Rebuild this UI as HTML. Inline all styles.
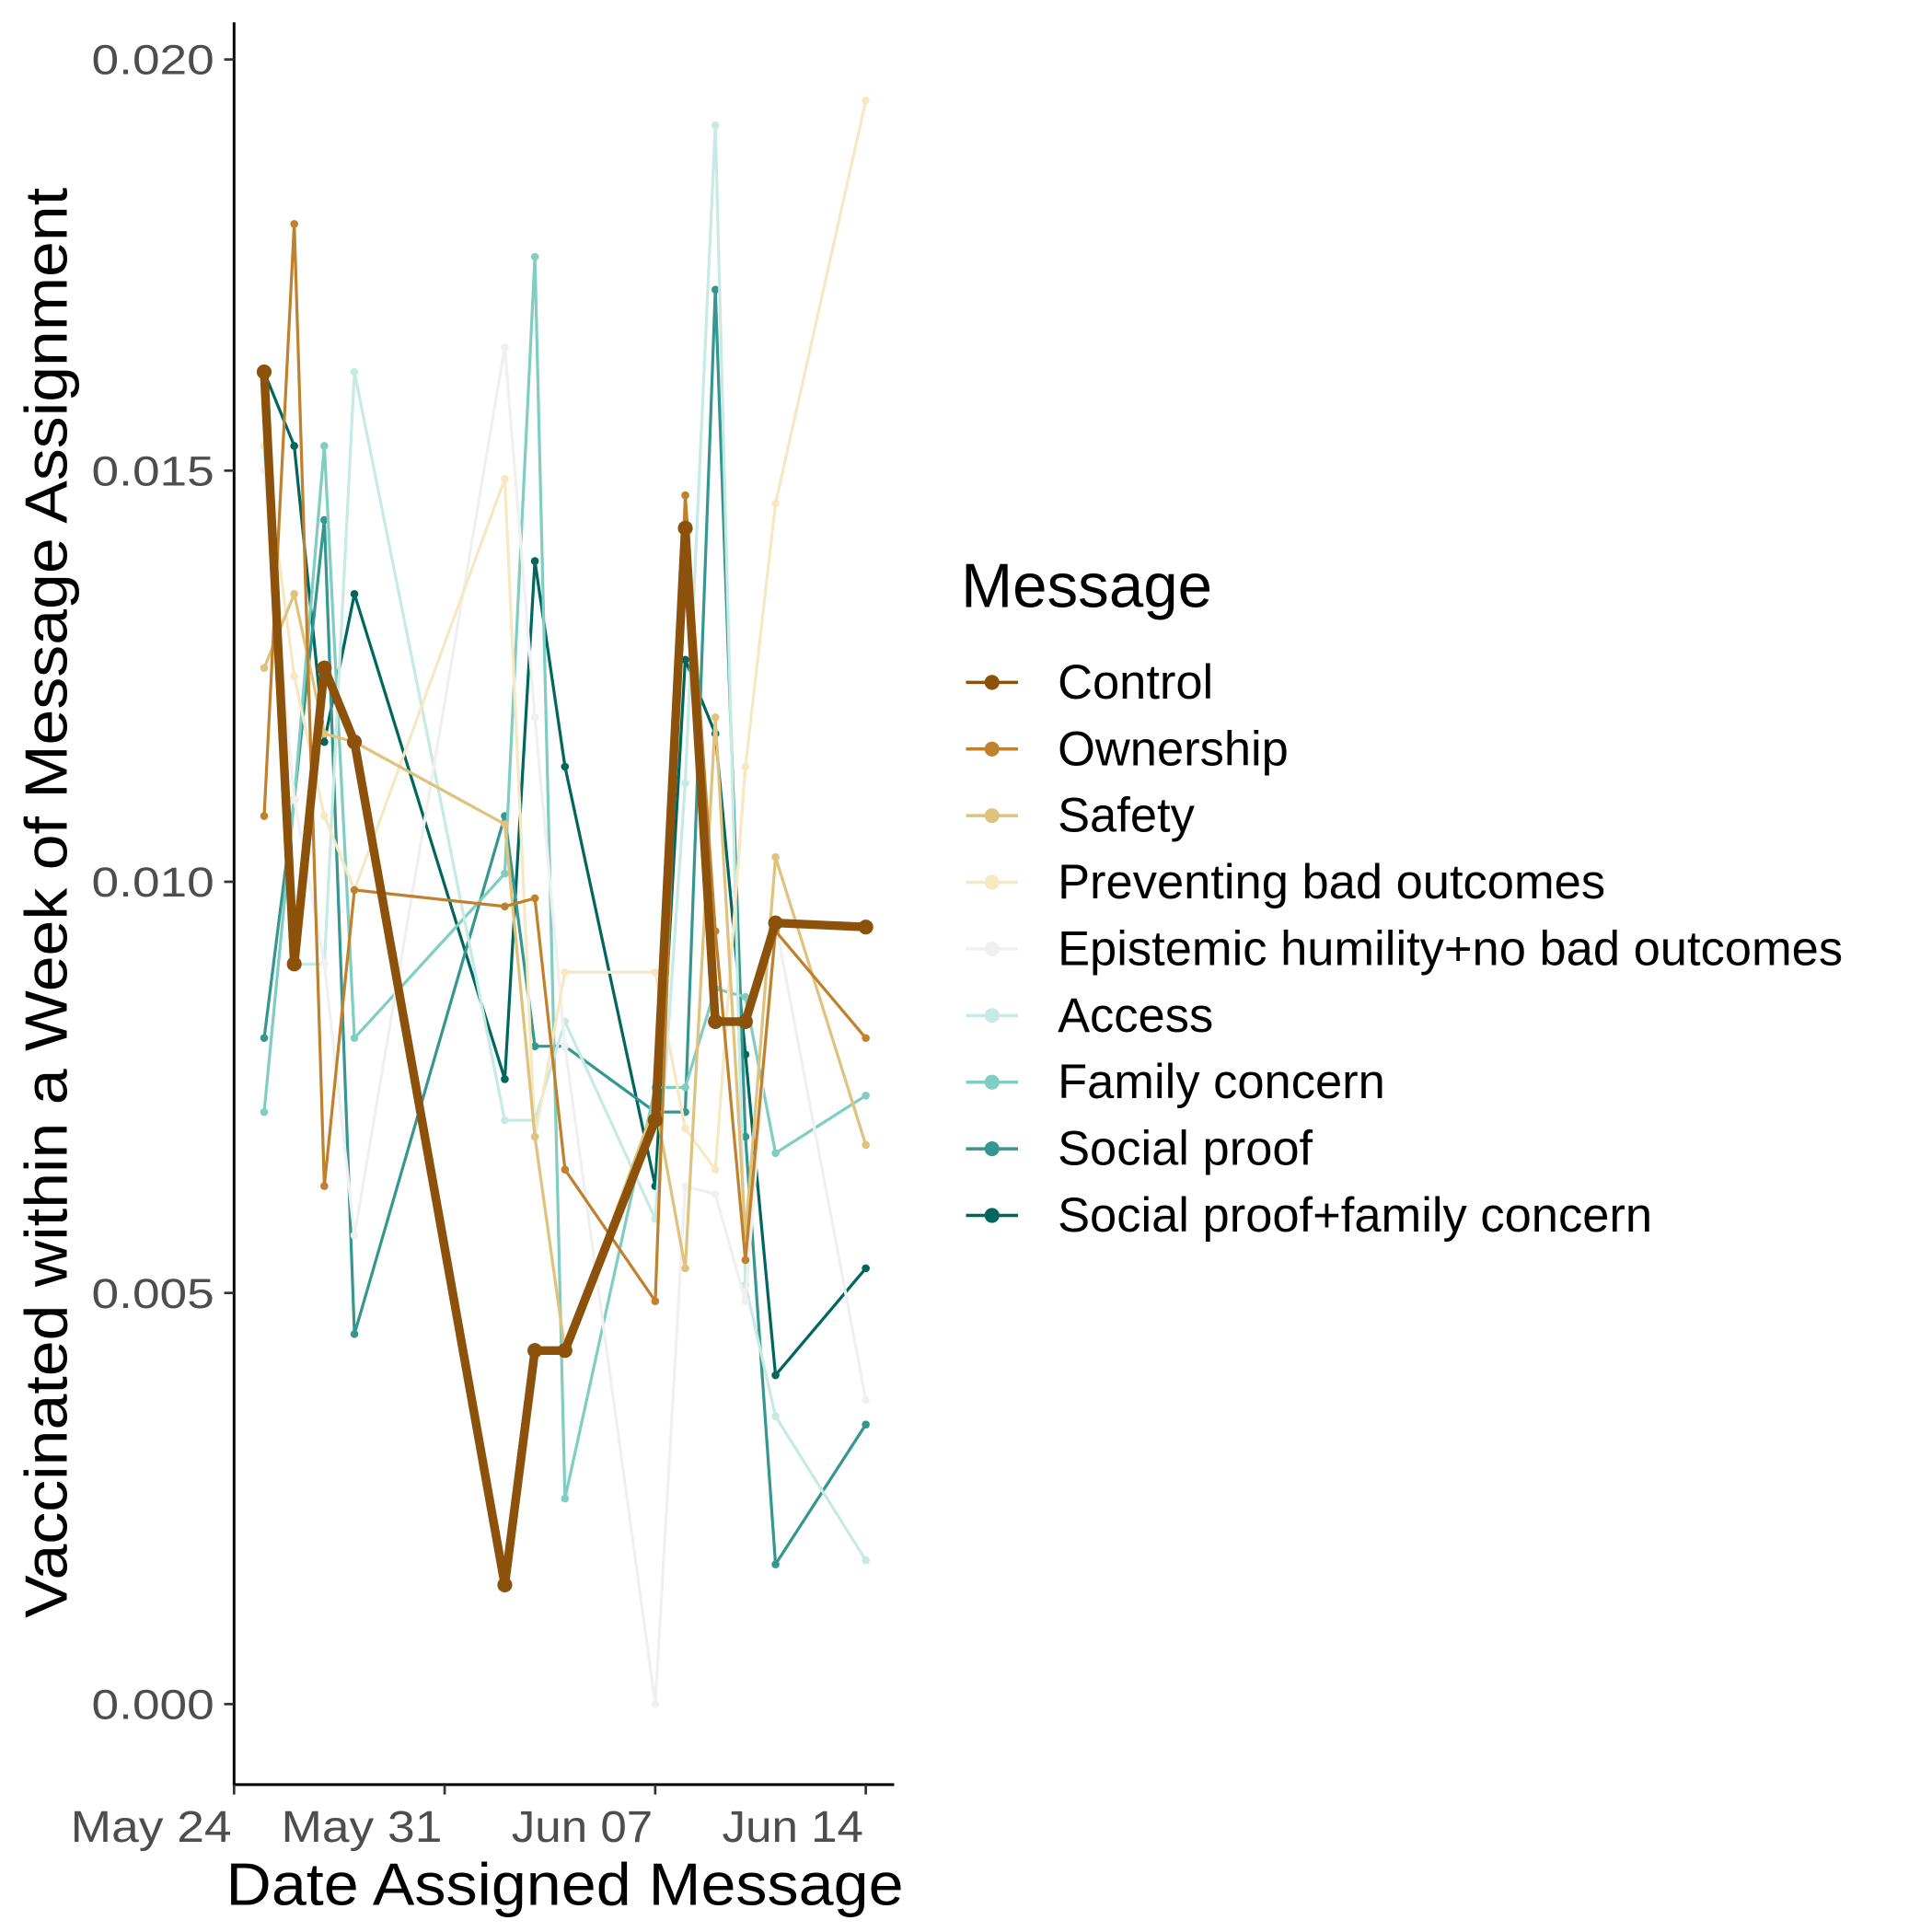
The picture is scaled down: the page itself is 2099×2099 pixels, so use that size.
<!DOCTYPE html>
<html><head><meta charset="utf-8"><style>html,body{margin:0;padding:0;background:#fff}svg{display:block}</style></head>
<body>
<svg id="chart" width="2099" height="2099" viewBox="0 0 1560 1560" xmlns="http://www.w3.org/2000/svg" font-family="Liberation Sans, DejaVu Sans, sans-serif">
<rect width="1560" height="1560" fill="#fff"/>
<g id="plot"></g>
</svg>
<script>
const dates = ["2021-05-25","2021-05-26","2021-05-27","2021-05-28","2021-06-02","2021-06-03","2021-06-04","2021-06-07","2021-06-08","2021-06-09","2021-06-10","2021-06-11","2021-06-14"];
const seriesNames = ["Control","Ownership","Safety","Preventing bad outcomes","Epistemic humility+no bad outcomes","Access","Family concern","Social proof","Social proof+family concern"];
const seriesColors = ["#8c510a","#bf812d","#dfc27d","#f6e8c3","#f0f0f0","#c7eae5","#80cdc1","#35978f","#01665e"];
const controlVals = [0.0162,0.0090,0.0126,0.0117,0.00145,0.0043,0.0043,0.0071,0.0143,0.0083,0.0083,0.0095,0.00945];
const ownershipVals = [0.0108,0.0180,0.0063,0.0099,0.0097,0.0098,0.0065,0.0049,0.0147,0.0094,0.0054,0.0094,0.0081];
const safetyVals = [0.0126,0.0135,0.0118,0.0117,0.0107,0.0069,0.0043,0.0073,0.0053,0.0120,0.0057,0.0103,0.0068];
const preventingVals = [0.0153,0.0125,0.0108,0.0099,0.0149,0.0069,0.0089,0.0089,0.0070,0.0065,0.0114,0.0146,0.0195];
const epistemicVals = [0.0150,0.0110,0.0090,0.0057,0.0165,0.0120,0.0080,0.0,0.0063,0.0062,0.0049,0.0095,0.0037];
const accessVals = [0.0153,0.0090,0.0090,0.0162,0.0071,0.0071,0.0083,0.0059,0.0112,0.0192,0.0051,0.0035,0.00175];
const familyVals = [0.0072,0.0110,0.0153,0.0081,0.0101,0.0176,0.0025,0.0075,0.0075,0.0087,0.0086,0.0067,0.0074];
const socialVals = [0.0081,0.0110,0.0144,0.0045,0.0108,0.0080,0.0080,0.0072,0.0072,0.0172,0.0069,0.0017,0.0034];
const socialFamVals = [0.0162,0.0153,0.0117,0.0135,0.0076,0.0139,0.0114,0.0063,0.0127,0.0118,0.0079,0.0040,0.0053];
const yTicks = [0,0.005,0.010,0.015,0.020];
const yTickLabels = ["0.000","0.005","0.010","0.015","0.020"];
const xTicks = ["2021-05-24","2021-05-31","2021-06-07","2021-06-14"];
const xTickLabels = ["May 24","May 31","Jun 07","Jun 14"];

const allVals=[controlVals,ownershipVals,safetyVals,preventingVals,epistemicVals,accessVals,familyVals,socialVals,socialFamVals];
const NS="http://www.w3.org/2000/svg";
const g=document.getElementById('plot');
const day0=Date.parse("2021-05-24");
function xs(d){return 189+(Date.parse(d)-day0)/86400000*24.29;}
function ys(v){return 1376-v/0.020*1328;}
function el(t,a,p){const e=document.createElementNS(NS,t);for(const k in a)e.setAttribute(k,a[k]);(p||g).appendChild(e);return e;}

for(let s=allVals.length-1;s>=0;s--){
  const vals=allVals[s];
  const thick=s===0;
  const pts=vals.map((v,i)=>xs(dates[i]).toFixed(1)+","+ys(v).toFixed(1)).join(" ");
  const pl=el('polyline',{points:pts,fill:'none',stroke:seriesColors[s],'stroke-width':thick?7:2.4,'stroke-linejoin':'round'});
  
  
  vals.forEach((v,i)=>{
    const c=el('circle',{cx:xs(dates[i]),cy:ys(v),r:thick?6:3.2,fill:seriesColors[s]});
    
    
  });
}
const ax=el('path',{d:'M189,18 V1441 H722',fill:'none',stroke:'#000','stroke-width':2.2});


yTicks.forEach((v,i)=>{
  el('line',{x1:181,x2:189,y1:ys(v),y2:ys(v),stroke:'#333','stroke-width':2});
  const t=el('text',{x:173,y:ys(v)+12,'text-anchor':'end','font-size':34,fill:'#4d4d4d',textLength:99,lengthAdjust:'spacingAndGlyphs'});
  t.textContent=yTickLabels[i];
  
  
});
xTicks.forEach((d,i)=>{
  el('line',{x1:xs(d),x2:xs(d),y1:1441,y2:1449,stroke:'#333','stroke-width':2});
  const t=el('text',{x:xs(d)-2,y:1487,'text-anchor':'end','font-size':36,fill:'#4d4d4d',textLength:i<2?130:114,lengthAdjust:'spacingAndGlyphs'});
  t.textContent=xTickLabels[i];
  
  
});
const xt=el('text',{x:456,y:1538,'text-anchor':'middle','font-size':48,fill:'#000',textLength:547,lengthAdjust:'spacingAndGlyphs'});
xt.textContent="Date Assigned Message";


const yt=el('text',{x:0,y:0,'text-anchor':'middle','font-size':48,fill:'#000',transform:'translate(54,729) rotate(-90)',textLength:1155,lengthAdjust:'spacingAndGlyphs'});
yt.textContent="Vaccinated within a Week of Message Assignment";


const lt=el('text',{x:776,y:490,'font-size':50,fill:'#000'});
lt.textContent="Message";


seriesNames.forEach((n,i)=>{
  const y=551+i*53.8;
  const lg=el('g',{});
  
  
  el('line',{x1:780,x2:822,y1:y,y2:y,stroke:seriesColors[i],'stroke-width':2.6},lg);
  el('circle',{cx:801,cy:y,r:6,fill:seriesColors[i]},lg);
  const t=el('text',{x:854,y:y+13,'font-size':39,fill:'#000'},lg);
  t.textContent=n;
});
</script>
</body></html>
